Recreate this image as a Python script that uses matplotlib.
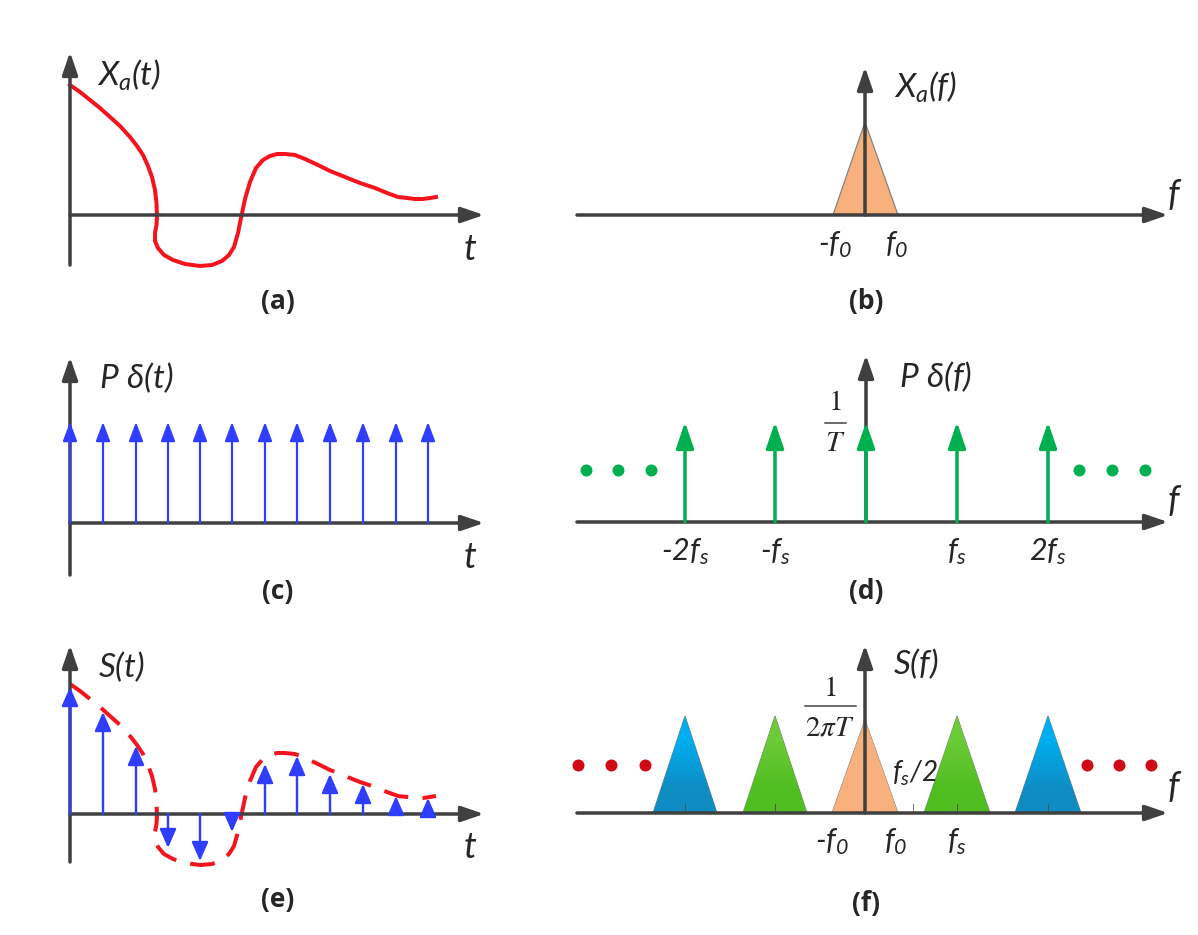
import matplotlib.pyplot as plt
from matplotlib.colors import LinearSegmentedColormap

plt.rcParams['mathtext.fontset'] = 'custom'
plt.rcParams['mathtext.rm'] = 'Lato:italic'
plt.rcParams['mathtext.it'] = 'Lato:italic'
plt.rcParams['mathtext.bf'] = 'Lato:bold'

# signal, height above the t axis
curve_t = [70, 80, 90, 100, 110, 120, 130, 137, 143, 148, 152, 155, 156.5, 157, 156.5, 155, 155, 158, 164, 173, 185, 200, 212, 222, 229, 234, 238, 241, 245, 250, 256, 263, 270, 277, 285, 295, 305, 318, 330, 345, 360, 375, 387, 398, 407, 415, 423, 430, 436]
curve_h = [130, 123, 115, 107, 98, 89, 78, 69, 60, 49, 38, 25, 12, -2, -10, -18, -26, -33, -40, -45, -49, -51, -50, -46, -40, -32, -18, -3, 16, 33, 47, 55, 59, 61, 61, 60, 56, 50, 44, 38, 32, 27, 22, 18, 17, 16, 16, 17, 18]

sample_t = [70, 103, 136, 168, 200, 232, 265, 297, 330, 363, 396, 428]
sample_h = [127, 102, 68, -34, -47, -18, 50, 58, 40, 30, 18, 16]

comb_f = [685, 775, 866, 957, 1048]
green_dots = [586, 618, 651, 1079, 1112, 1145]
red_dots = [578, 611, 645, 1087, 1119, 1151]

tri_center = [685, 775, 865, 957, 1048]
tri_half = [32, 32, 33, 33, 33]
tri_top = [716, 716, 720, 716, 716]
tri_upper = ['#00AEEF', '#6CCB38', '#F8B17C', '#6CCB38', '#00AEEF']
tri_lower = ['#0F8CC4', '#50BE20', '#F8B17C', '#50BE20', '#0F8CC4']

GRAY = '#404040'
RED = '#F5141E'
BLUE = '#2F3DFF'
GREEN = '#00B050'

def px(n):
    return n * 0.72

def arrow(x0, y0, x1, y1, color, width, head_len, head_wid):
    style = '-|>,head_length=%f,head_width=%f' % (px(head_len), px(head_wid) / 2)
    plt.annotate('', xy=(x1, y1), xytext=(x0, y0), arrowprops=dict(arrowstyle=style, color=color, lw=px(width), shrinkA=0, shrinkB=0, mutation_scale=1))

def label(x, y, s, size=24):
    plt.text(x, y, s, fontsize=size, family='Lato', style='italic', color='#262626', ha='center', va='center')

def caption(x, y, s):
    plt.text(x, y, s, fontsize=19, family='Open Sans', weight='bold', color='#262626', ha='center', va='center')

def serif(x, y, s, size=21):
    plt.text(x, y, s, fontsize=size, math_fontfamily='stix', color='#262626', ha='center', va='center')

plt.figure(figsize=(11.98, 9.35), dpi=100)
plt.axes([0, 0, 1, 1])

# (a)
arrow(70, 265, 70, 52, GRAY, 3.5, 19, 13)
arrow(70, 215, 484, 215, GRAY, 3.5, 19, 13)
plt.plot(curve_t, [215 - h for h in curve_h], color=RED, lw=px(4))
label(129, 75, r'$X_a(t)$')
label(470, 250, r'$t$', 26)
caption(278, 302, '(a)')

# (b)
plt.fill([833, 865, 898], [215, 122, 215], facecolor='#F8B17C', edgecolor='#808080', lw=px(1.2))
arrow(577, 215, 1168, 215, GRAY, 3.5, 19, 13)
arrow(865, 215, 865, 67, GRAY, 3.5, 19, 13)
label(925, 87, r'$X_a(f)$')
label(1175, 195, r'$f$', 26)
label(835, 245, r'-$f_0$', 22)
label(897, 245, r'$f_0$', 22)
caption(866, 302, '(b)')

# (c)
arrow(70, 575, 70, 357, GRAY, 3.5, 19, 13)
arrow(70, 523, 484, 523, GRAY, 3.5, 19, 13)
for t in sample_t:
    arrow(t, 523, t, 422, BLUE, 2.2, 16, 12)
label(136, 378, r'$P\ \delta(t)$')
label(470, 557, r'$t$', 26)
caption(278, 591, '(c)')

# (d)
arrow(577, 522, 1168, 522, GRAY, 3.5, 19, 13)
arrow(866, 522, 866, 355, GRAY, 3.5, 19, 13)
for f in comb_f:
    arrow(f, 522, f, 422, GREEN, 3.5, 22, 15)
plt.scatter(green_dots, [470] * 6, s=px(12) ** 2, color=GREEN, linewidths=0)
label(936, 377, r'$P\ \delta(f)$')
label(1175, 500, r'$f$', 26)
serif(835, 402, r'$1$')
plt.plot([825, 846], [423, 423], color=GRAY, lw=px(1.5))
serif(835, 443, r'$T$')
label(685, 552, r'-$2f_s$', 22)
label(775, 552, r'-$f_s$', 22)
label(957, 552, r'$f_s$', 22)
label(1048, 552, r'$2f_s$', 22)
caption(866, 591, '(d)')

# (e)
arrow(70, 862, 70, 645, GRAY, 3.5, 19, 13)
arrow(70, 814, 484, 814, GRAY, 3.5, 19, 13)
plt.plot(curve_t, [814 - h for h in curve_h], color=RED, lw=px(4), linestyle=(0, (6.2, 3.6)))
for t, h in zip(sample_t, sample_h):
    arrow(t, 814, t, 814 - h, BLUE, 2.4, 16, 14)
label(121, 667, r'$S(t)$')
label(470, 848, r'$t$', 26)
caption(278, 899, '(e)')

# (f)
for c, w, top, up, low in zip(tri_center, tri_half, tri_top, tri_upper, tri_lower):
    tri = plt.fill([c - w, c, c + w], [813, top, 813], facecolor=up, edgecolor='#808080', lw=px(1))[0]
    cmap = LinearSegmentedColormap.from_list('shade', [up, low])
    im = plt.imshow([[0], [1]], cmap=cmap, extent=(c - w, c + w, 813, top), aspect='auto', interpolation='bilinear', origin='upper', zorder=1.5)
    im.set_clip_path(tri)
    plt.plot([c, c], [804, 813], color='#505050', lw=px(1))
plt.plot([913, 913], [804, 813], color='#808080', lw=px(1))
arrow(577, 813, 1168, 813, GRAY, 3.5, 19, 13)
arrow(865, 813, 865, 645, GRAY, 3.5, 19, 13)
plt.scatter(red_dots, [765] * 6, s=px(12) ** 2, color='#D00A14', linewidths=0)
label(916, 664, r'$S(f)$')
label(1175, 787, r'$f$', 26)
serif(830, 688, r'$1$')
plt.plot([805, 856], [706, 706], color=GRAY, lw=px(1.5))
serif(830, 727, r'$2\pi T$')
label(915, 773, r'$f_s/2$', 20)
label(832, 842, r'-$f_0$', 22)
label(896, 842, r'$f_0$', 22)
label(957, 842, r'$f_s$', 22)
caption(866, 904, '(f)')

plt.xlim(0, 1198)
plt.ylim(935, 0)
plt.axis('off')

plt.savefig('out.png', dpi=100)
